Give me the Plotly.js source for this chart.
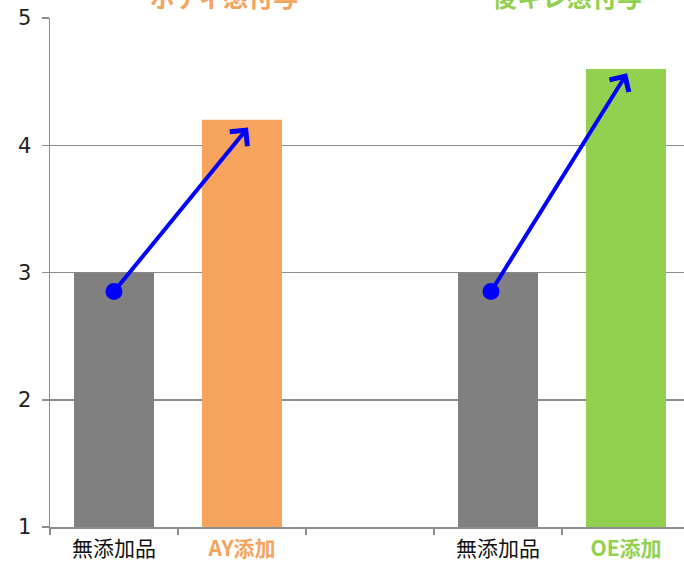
<!DOCTYPE html>
<html>
<head>
<meta charset="utf-8">
<script src="https://cdn.plot.ly/plotly-3.0.1.min.js"></script>
<style>
html,body{margin:0;padding:0;background:#fff;}
#chart{width:684px;height:563px;}
</style>
</head>
<body>
<div id="chart"></div>
<script>
// ---- data ----
const barPositions = [0, 1, 3, 4];
const barValues = [3, 4.2, 3, 4.6];
const barColors = ['#808080', '#F6A35E', '#808080', '#92D050'];
const tickLabels = ['無添加品', 'AY添加', '無添加品', 'OE添加'];
const tickColors = ['#111111', '#F6A35E', '#111111', '#92D050'];
const tickBold = [false, true, false, true];
const boundaryTicks = [-0.5, 0.5, 1.5, 2.5, 3.5];
const arrowStartX = [0, 2.945];
const arrowStartY = [2.85, 2.85];
const arrowEndX = [1.047, 4.008];
const arrowEndY = [4.14, 4.566];
const groupTitles = ['ボディ感付与', '後キレ感付与'];
const groupTitleX = [0.86, 3.54];
const groupTitleColors = ['#F6A35E', '#92D050'];

const ticktext = tickLabels.map((t, i) => {
  const inner = tickBold[i] ? '<b>' + t + '</b>' : t;
  return '<span style="color:' + tickColors[i] + '">' + inner + '</span>';
});

const traces = [
  {
    type: 'bar', x: barPositions, y: barValues, width: 0.625,
    marker: {color: barColors}, hoverinfo: 'skip', showlegend: false
  },
  {
    type: 'scatter', x: arrowStartX, y: arrowStartY, mode: 'markers',
    marker: {symbol: 'circle', size: 17, color: '#0000FF'},
    hoverinfo: 'skip', showlegend: false, cliponaxis: false
  },
  {
    type: 'scatter', x: boundaryTicks, y: boundaryTicks.map(() => 1),
    xaxis: 'x2', mode: 'markers', marker: {opacity: 0}, hoverinfo: 'skip', showlegend: false
  }
];

const annotations = groupTitles.map((t, i) => ({
  text: '<b>' + t + '</b>', x: groupTitleX[i], xref: 'x', y: 1, yref: 'paper',
  yanchor: 'bottom', yshift: 2, showarrow: false,
  font: {family: 'Noto Sans CJK JP', size: 25, color: groupTitleColors[i]}
}));
arrowStartX.forEach((sx, i) => {
  annotations.push({
    text: '', x: arrowEndX[i], y: arrowEndY[i], xref: 'x', yref: 'y',
    ax: sx, ay: arrowStartY[i], axref: 'x', ayref: 'y',
    showarrow: true, arrowhead: 4, arrowsize: 1.1, arrowwidth: 4,
    arrowcolor: '#0000FF', standoff: 0, startstandoff: 0
  });
});

const layout = {
  width: 684, height: 563,
  margin: {l: 50, r: 0, t: 18, b: 36},
  paper_bgcolor: '#ffffff', plot_bgcolor: '#ffffff',
  font: {family: 'Noto Sans CJK JP', color: '#111'},
  xaxis: {
    range: [-0.5, 4.453], tickvals: barPositions, ticktext: ticktext,
    ticks: '', showgrid: false, zeroline: false,
    showline: true, linecolor: '#8c8c8c', linewidth: 1.5,
    tickfont: {family: 'Noto Sans CJK JP', size: 21, color: '#111'},
    ticklabelstandoff: 2,
    fixedrange: true
  },
  xaxis2: {
    overlaying: 'x', anchor: 'y', range: [-0.5, 4.453],
    tickvals: boundaryTicks, ticks: 'outside', ticklen: 7, tickwidth: 1.5,
    tickcolor: '#8c8c8c', showticklabels: false, showgrid: false,
    zeroline: false, showline: false
  },
  yaxis: {
    range: [1, 5], dtick: 1, tick0: 1,
    showgrid: true, gridcolor: '#8c8c8c', gridwidth: 1.5,
    zeroline: false, showline: true, linecolor: '#8c8c8c', linewidth: 1.5,
    ticks: 'outside', ticklen: 7, tickwidth: 1.5, tickcolor: '#8c8c8c',
    tickfont: {family: 'DejaVu Sans', size: 21, color: '#222'},
    ticklabelstandoff: 6,
    fixedrange: true
  },
  annotations: annotations
};

Plotly.newPlot('chart', traces, layout, {displayModeBar: false, staticPlot: true});
</script>
</body>
</html>
